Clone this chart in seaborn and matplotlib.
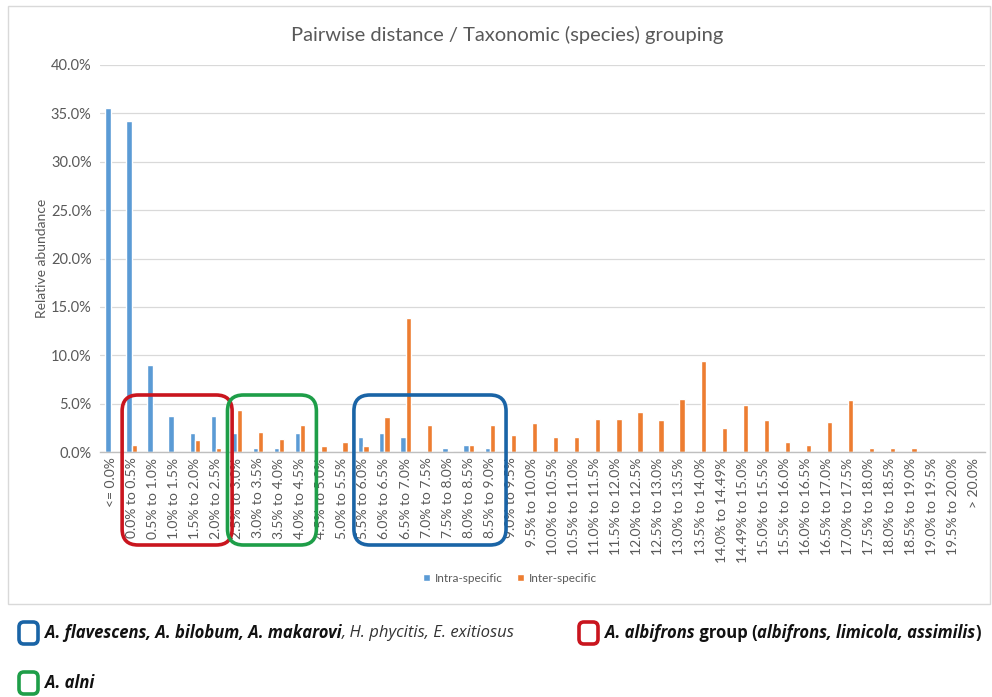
import numpy as np
import pandas as pd
import matplotlib
matplotlib.use("Agg")
import matplotlib.pyplot as plt
import seaborn as sns
from matplotlib.patches import FancyBboxPatch, Rectangle
from matplotlib.transforms import IdentityTransform

# ---------------- data ----------------
categories = [
    "<= 0.0%", "0.0% to 0.5%", "0.5% to 1.0%", "1.0% to 1.5%", "1.5% to 2.0%",
    "2.0% to 2.5%", "2.5% to 3.0%", "3.0% to 3.5%", "3.5% to 4.0%", "4.0% to 4.5%",
    "4.5% to 5.0%", "5.0% to 5.5%", "5.5% to 6.0%", "6.0% to 6.5%", "6.5% to 7.0%",
    "7.0% to 7.5%", "7.5% to 8.0%", "8.0% to 8.5%", "8.5% to 9.0%", "9.0% to 9.5%",
    "9.5% to 10.0%", "10.0% to 10.5%", "10.5% to 11.0%", "11.0% to 11.5%",
    "11.5% to 12.0%", "12.0% to 12.5%", "12.5% to 13.0%", "13.0% to 13.5%",
    "13.5% to 14.0%", "14.0% to 14.49%", "14.49% to 15.0%", "15.0% to 15.5%",
    "15.5% to 16.0%", "16.0% to 16.5%", "16.5% to 17.0%", "17.0% to 17.5%",
    "17.5% to 18.0%", "18.0% to 18.5%", "18.5% to 19.0%", "19.0% to 19.5%",
    "19.5% to 20.0%", "> 20.0%",
]
intra_specific = [
    35.6, 34.2, 9.0, 3.7, 1.95, 3.7, 1.95, 0.4, 0.4, 1.95,
    0.0, 0.0, 1.6, 1.95, 1.6, 0.0, 0.4, 0.75, 0.4, 0.0,
    0.0, 0.0, 0.0, 0.0, 0.0, 0.0, 0.0, 0.0, 0.0, 0.0,
    0.0, 0.0, 0.0, 0.0, 0.0, 0.0, 0.0, 0.0, 0.0, 0.0,
    0.0, 0.0,
]
inter_specific = [
    0.0, 0.75, 0.0, 0.0, 1.25, 0.4, 4.3, 2.1, 1.35, 2.8,
    0.65, 1.0, 0.65, 3.65, 13.8, 2.8, 0.1, 0.75, 2.8, 1.8,
    3.0, 1.6, 1.6, 3.4, 3.4, 4.1, 3.3, 5.5, 9.4, 2.45,
    4.9, 3.3, 1.0, 0.75, 3.05, 5.35, 0.4, 0.4, 0.4, 0.0,
    0.0, 0.0,
]
series_names = ["Intra-specific", "Inter-specific"]
y_ticks = [0, 5, 10, 15, 20, 25, 30, 35, 40]

# highlighted groups: (first category, last category, colour)
groups = [
    ("0.0% to 0.5%", "2.0% to 2.5%", "#C9151E"),
    ("2.5% to 3.0%", "4.0% to 4.5%", "#1E9E48"),
    ("5.5% to 6.0%", "8.5% to 9.0%", "#1A64A6"),
]

# ---------------- style ----------------
sns.set_theme(style="white")
plt.rcParams['font.family'] = ['Lato', 'DejaVu Sans']
GREY = "#595959"

W, H = 992, 697
fig = plt.figure(figsize=(W / 100, H / 100), dpi=100)
fig.patch.set_facecolor("white")

# chart outer border
fig.patches.append(Rectangle((8, H - 604), 982, 598, transform=IdentityTransform(),
                             fill=False, edgecolor="#d9d9d9", lw=1.0))

ax = fig.add_axes([100 / W, (H - 452) / H, 885 / W, 387 / H])

df = pd.DataFrame({
    "bin": categories * 2,
    "value": intra_specific + inter_specific,
    "type": [series_names[0]] * len(categories) + [series_names[1]] * len(categories),
})
sns.barplot(data=df, x="bin", y="value", hue="type", order=categories,
            hue_order=series_names, palette=["#5B9BD5", "#ED7D31"],
            width=0.5, saturation=1, ax=ax, legend=True)

ax.set_xlim(-0.5, len(categories) - 0.5)
ax.set_ylim(0, 40)
ax.set_yticks(y_ticks)
ax.set_yticklabels([f"{v:.1f}%" for v in y_ticks])
ax.yaxis.grid(True, color="#d9d9d9", lw=0.9)
ax.set_axisbelow(True)
for s in ["top", "right", "left"]:
    ax.spines[s].set_visible(False)
ax.spines["bottom"].set_color("#bfbfbf")
ax.spines["bottom"].set_linewidth(1.0)
ax.tick_params(axis="both", length=0, colors=GREY)
ax.tick_params(axis="y", labelsize=10.5, pad=6)
ax.tick_params(axis="x", labelsize=10, pad=4)
ax.set_xticks(range(len(categories)))
ax.set_xticklabels(categories, rotation=90)
ax.set_xlabel("")
ax.set_ylabel("")

# legend inside chart frame
sns.move_legend(ax, "center", bbox_to_anchor=((510 - 100) / 885, (452 - 578) / 387),
                ncol=2, frameon=False, title=None, fontsize=8.5,
                handlelength=0.6, handleheight=0.6, columnspacing=1.2, handletextpad=0.4)
for t in ax.get_legend().get_texts():
    t.set_color(GREY)

fig.text(507 / W, (H - 35) / H, "Pairwise distance / Taxonomic (species) grouping",
         ha="center", va="center", fontsize=14.5, color=GREY)
fig.text(42 / W, (H - 258) / H, "Relative abundance", rotation=90,
         ha="center", va="center", fontsize=10, color=GREY)

# highlight boxes around category groups
ytop = ax.transAxes.transform((0, (452 - 395) / 387))[1]
ybot = ax.transAxes.transform((0, (452 - 545) / 387))[1]
for first, last, col in groups:
    i0 = categories.index(first) - 0.45
    i1 = categories.index(last) + 0.77
    x0 = ax.transData.transform((i0, 0))[0]
    x1 = ax.transData.transform((i1, 0))[0]
    box = FancyBboxPatch((x0, ybot), x1 - x0, ytop - ybot,
                         boxstyle="round,pad=0,rounding_size=16",
                         transform=IdentityTransform(), fill=False,
                         edgecolor=col, lw=2.6, clip_on=False)
    fig.patches.append(box)

# bottom key with mixed-style text
renderer = fig.canvas.get_renderer()


def key(x_px, y_px, col, runs):
    sq = FancyBboxPatch((x_px, H - y_px - 11), 19, 22,
                        boxstyle="round,pad=0,rounding_size=5",
                        transform=IdentityTransform(), fill=False,
                        edgecolor=col, lw=2.6)
    fig.patches.append(sq)
    x = x_px + 26
    for txt, weight, style, c in runs:
        t = fig.text(x, H - y_px, txt, transform=IdentityTransform(),
                     ha="left", va="center", fontsize=12, fontweight=weight,
                     fontstyle=style, color=c,
                     family=['Open Sans', 'DejaVu Sans'])
        bb = t.get_window_extent(renderer)
        x = bb.x1


key(19, 633, "#1A64A6", [
    ("A. flavescens, A. bilobum, A. makarovi", "bold", "italic", "#111111"),
    (", H. phycitis, E. exitiosus", "normal", "italic", "#333333"),
])
key(579, 633, "#C9151E", [
    ("A. albifrons", "bold", "italic", "#111111"),
    (" group (", "bold", "normal", "#111111"),
    ("albifrons, limicola, assimilis", "bold", "italic", "#111111"),
    (")", "bold", "normal", "#111111"),
])
key(19, 683, "#1E9E48", [
    ("A. alni", "bold", "italic", "#111111"),
])

fig.savefig("out.png", dpi=100)
